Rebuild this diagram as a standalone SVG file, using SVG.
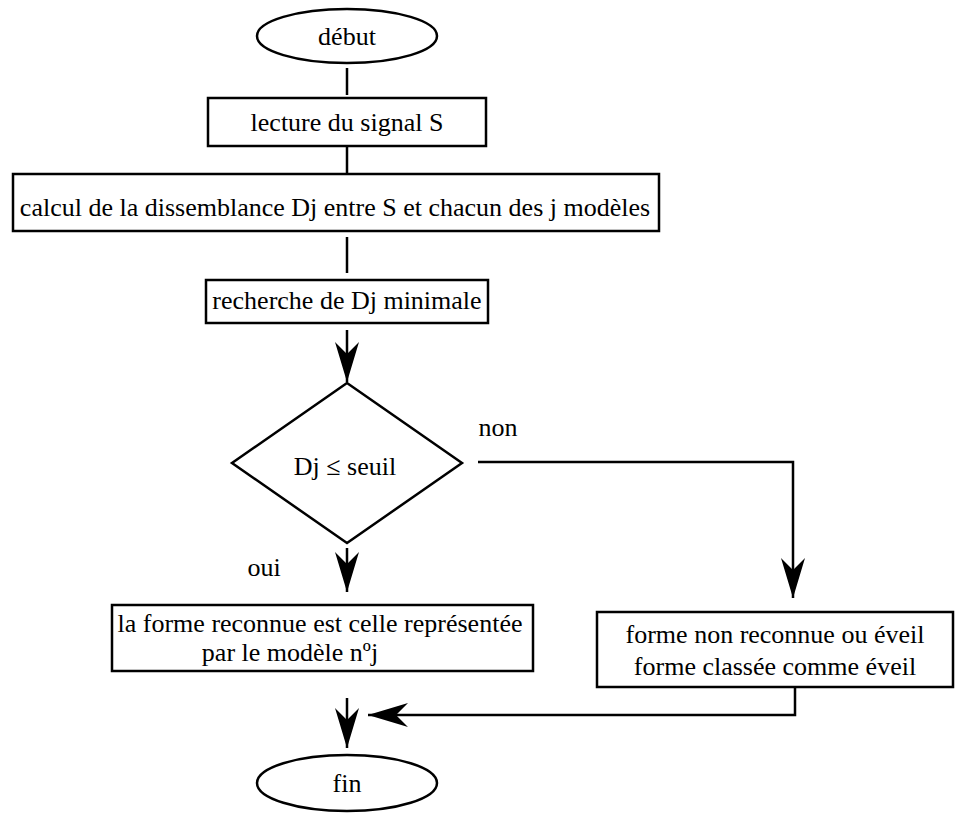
<svg xmlns="http://www.w3.org/2000/svg" width="980" height="824" viewBox="0 0 980 824">
<defs>
<style>
.s{fill:#fff;stroke:#000;stroke-width:2.5}
.t{font-family:"Liberation Serif","Times New Roman",serif;font-size:26px;fill:#000;text-anchor:middle}
.c{fill:none;stroke:#000;stroke-width:2.5}
</style>
<marker id="ah" viewBox="0 0 40 24" refX="40" refY="12" markerWidth="40" markerHeight="24" markerUnits="userSpaceOnUse" orient="auto">
<path d="M0,0 L40,12 L0,24 L12,12 Z" fill="#000"/>
</marker>
</defs>
<rect width="980" height="824" fill="#fff"/>
<g id="connectors">
<line class="c" x1="347" y1="68" x2="347" y2="95"/>
<line class="c" x1="347" y1="146" x2="347" y2="173"/>
<line class="c" x1="347" y1="237" x2="347" y2="273"/>
<line class="c" x1="347" y1="330" x2="347" y2="382" marker-end="url(#ah)"/>
<line class="c" x1="347" y1="548" x2="347" y2="592" marker-end="url(#ah)"/>
<polyline class="c" points="478,462 793,462 793,598" marker-end="url(#ah)"/>
<polyline class="c" points="795,688 795,715 368,715" marker-end="url(#ah)"/>
<line class="c" x1="347" y1="698" x2="347" y2="748" marker-end="url(#ah)"/>
</g>
<g id="debut">
<ellipse class="s" cx="347" cy="36" rx="90" ry="27"/>
<text class="t" x="347" y="45">début</text>
</g>
<g id="lecture">
<rect class="s" x="208" y="98" width="278" height="48"/>
<text class="t" x="347" y="131">lecture du signal S</text>
</g>
<g id="calcul">
<rect class="s" x="13" y="174" width="646" height="57"/>
<text class="t" x="335" y="216">calcul de la dissemblance Dj entre S et chacun des j modèles</text>
</g>
<g id="recherche">
<rect class="s" x="206" y="280" width="282" height="43"/>
<text class="t" x="347" y="309">recherche de Dj minimale</text>
</g>
<g id="decision">
<polygon class="s" points="347,383 462,463 347,543 232,463"/>
<text class="t" x="345" y="475">Dj ≤ seuil</text>
</g>
<text class="t" x="498" y="436">non</text>
<text class="t" x="264" y="576">oui</text>
<g id="reconnue">
<rect class="s" x="112" y="605" width="421" height="66"/>
<text class="t" x="320" y="632">la forme reconnue est celle représentée</text>
<text class="t" x="290" y="661">par le modèle nºj</text>
</g>
<g id="nonreconnue">
<rect class="s" x="597" y="612" width="356" height="75"/>
<text class="t" x="775" y="643">forme non reconnue ou éveil</text>
<text class="t" x="775" y="675">forme classée comme éveil</text>
</g>
<g id="fin">
<ellipse class="s" cx="347" cy="783" rx="90" ry="28"/>
<text class="t" x="347" y="792">fin</text>
</g>
</svg>
